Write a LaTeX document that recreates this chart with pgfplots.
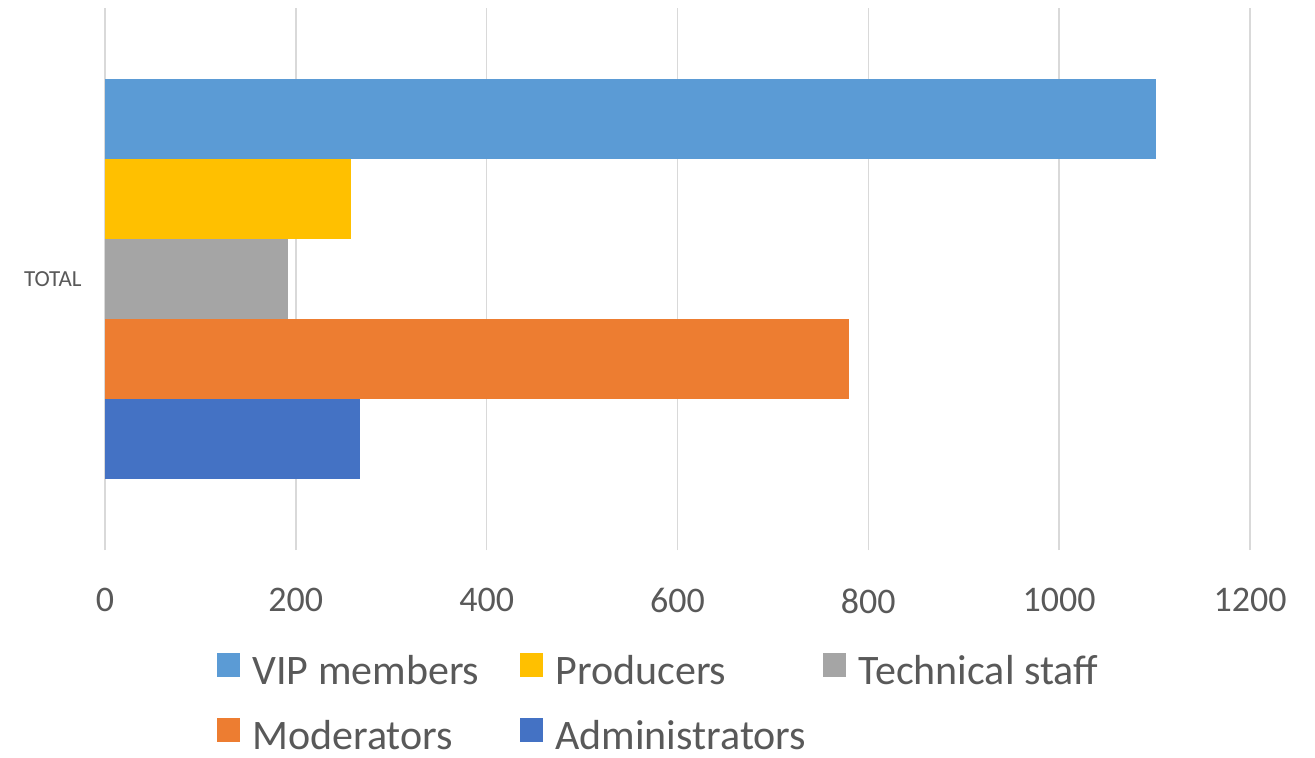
\documentclass[border=0pt]{standalone}
\usepackage{fontspec}
\setmainfont{Carlito}
\usepackage{pgfplots}
\pgfplotsset{compat=1.18}
\definecolor{vip}{HTML}{5B9BD5}
\definecolor{prod}{HTML}{FFC000}
\definecolor{tech}{HTML}{A5A5A5}
\definecolor{moder}{HTML}{ED7D31}
\definecolor{admin}{HTML}{4472C4}
\definecolor{txt}{HTML}{595959}
\definecolor{grd}{HTML}{D9D9D9}

\begin{document}
\begin{tikzpicture}
% page frame in pt (1 px of the reference = 0.5 pt)
\path[use as bounding box] (-52.5pt,-103.5pt) rectangle (605pt,275pt);
\begin{axis}[
  at={(0,0)}, anchor=south west,
  scale only axis, width=572.5pt, height=271pt,
  xbar, bar width=40pt,
  xmin=0, xmax=1200, ymin=-1, ymax=1,
  xtick={0,200,...,1200}, ytick={0}, yticklabels={TOTAL},
  axis line style={draw=none}, major tick length=0pt,
  xmajorgrids, major grid style={grd, line width=0.75pt},
  /pgf/number format/assume math mode=true,
  /pgf/number format/1000 sep={},
  xticklabel style={font=\fontsize{18}{20}\selectfont, text=txt, anchor=north, inner sep=0pt, yshift=-19pt},
  yticklabel style={font=\fontsize{11.5}{13}\selectfont, text=txt, anchor=east, inner sep=0pt, xshift=-11.5pt},
  legend columns=3,
  legend image code/.code={\fill[#1] (0pt,-3pt) rectangle (11.5pt,9pt);},
  legend style={at={(0,0)}, anchor=north west, xshift=56pt, yshift=-51.5pt,
    draw=none, fill=none, inner sep=0pt, row sep=16pt, column sep=0pt,
    font=\fontsize{21}{24}\selectfont, text=txt,
    nodes={inner sep=0pt, text height=14pt, text depth=1pt}},
]
\addplot[fill=vip, draw=none, bar shift=80pt] coordinates {(1101,0)};
\addlegendentry{\makebox[140pt][l]{\hspace{6pt}VIP members}}
\addplot[fill=prod, draw=none, bar shift=40pt] coordinates {(258,0)};
\addlegendentry{\makebox[140pt][l]{\hspace{6pt}Producers}}
\addplot[fill=tech, draw=none, bar shift=0pt] coordinates {(192,0)};
\addlegendentry{\makebox[140pt][l]{\hspace{6pt}Technical staff}}
\addplot[fill=moder, draw=none, bar shift=-40pt] coordinates {(780,0)};
\addlegendentry{\makebox[140pt][l]{\hspace{6pt}Moderators}}
\addplot[fill=admin, draw=none, bar shift=-80pt] coordinates {(267,0)};
\addlegendentry{\makebox[140pt][l]{\hspace{6pt}Administrators}}
\end{axis}
\end{tikzpicture}
\end{document}
